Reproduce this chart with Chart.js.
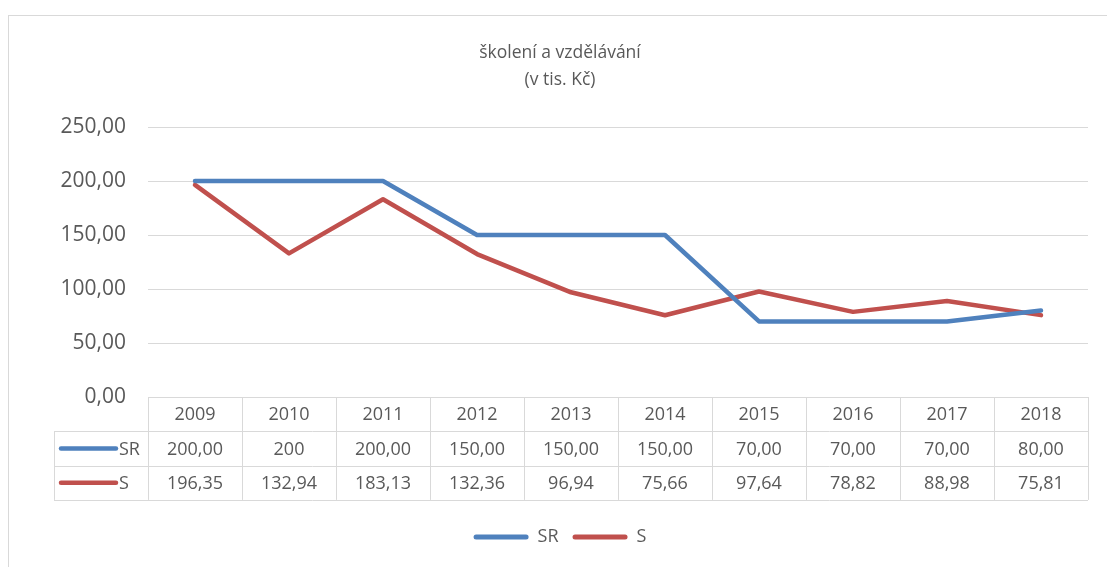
<!DOCTYPE html>
<html>
<head>
<meta charset="utf-8">
<script src="https://cdn.jsdelivr.net/npm/chart.js@4"></script>
<style>
    html, body { margin: 0; padding: 0; background: #fff; overflow: hidden; }
    #frame {
        position: absolute; left: 8px; top: 15px;
        width: 1120px; height: 580px;
        border: 1px solid #d9d9d9; box-sizing: border-box;
    }
    #wrap { position: absolute; left: 0; top: 0; width: 1107px; height: 567px; }
</style>
</head>
<body>
<div id="frame"></div>
<div id="wrap"><canvas id="myChart"></canvas></div>
<script>
const years = ['2009', '2010', '2011', '2012', '2013', '2014', '2015', '2016', '2017', '2018'];
const srValues = [200, 200, 200, 150, 150, 150, 70, 70, 70, 80];
const sValues = [196.35, 132.94, 183.13, 132.36, 96.94, 75.66, 97.64, 78.82, 88.98, 75.81];
// text exactly as shown in the data table
const srTable = ['200,00', '200', '200,00', '150,00', '150,00', '150,00', '70,00', '70,00', '70,00', '80,00'];
const sTable = ['196,35', '132,94', '183,13', '132,36', '96,94', '75,66', '97,64', '78,82', '88,98', '75,81'];
const titleLines = ['školení a vzdělávání', '(v tis. Kč)'];

const FONT = '"Open Sans", sans-serif';
const TEXT = '#595959';
const GRID = '#d9d9d9';
const BLUE = '#4f81bd';
const RED = '#c0504d';

// draws the data table under the plot, using the x scale for the columns
const dataTable = {
    id: 'dataTable',
    afterDraw(chart) {
        const ctx = chart.ctx;
        const x = chart.scales.x;
        const n = years.length;
        const band = (x.right - x.left) / n;
        const top = chart.chartArea.bottom;
        const rowH = 34.3;
        const keyLeft = x.left - band;
        const rows = [
            { name: 'SR', color: BLUE, cells: srTable },
            { name: 'S', color: RED, cells: sTable }
        ];

        ctx.save();
        ctx.strokeStyle = GRID;
        ctx.lineWidth = 1;
        const hline = (y, x0) => {
            ctx.beginPath();
            ctx.moveTo(x0, Math.round(y) + 0.5);
            ctx.lineTo(x.right, Math.round(y) + 0.5);
            ctx.stroke();
        };
        const vline = (xx, y0, y1) => {
            ctx.beginPath();
            ctx.moveTo(Math.round(xx) + 0.5, y0);
            ctx.lineTo(Math.round(xx) + 0.5, y1);
            ctx.stroke();
        };
        hline(top, x.left);
        hline(top + rowH, keyLeft);
        hline(top + 2 * rowH, keyLeft);
        hline(top + 3 * rowH, keyLeft);
        for (let k = 0; k <= n; k++) {
            vline(x.left + k * band, top, top + 3 * rowH);
        }
        vline(keyLeft, top + rowH, top + 3 * rowH);

        ctx.fillStyle = TEXT;
        ctx.font = '18px ' + FONT;
        ctx.textAlign = 'center';
        ctx.textBaseline = 'middle';
        years.forEach((yr, i) => {
            ctx.fillText(yr, x.getPixelForValue(i), top + rowH / 2 + 1);
        });
        rows.forEach((row, r) => {
            const cy = top + rowH * (r + 1.5) + 1;
            row.cells.forEach((txt, i) => {
                ctx.fillText(txt, x.getPixelForValue(i), cy);
            });
            // series key
            ctx.strokeStyle = row.color;
            ctx.lineWidth = 4.5;
            ctx.lineCap = 'round';
            ctx.beginPath();
            ctx.moveTo(keyLeft + 7, cy - 1);
            ctx.lineTo(keyLeft + 62, cy - 1);
            ctx.stroke();
            ctx.textAlign = 'left';
            ctx.fillText(row.name, keyLeft + 65, cy);
            ctx.textAlign = 'center';
        });
        ctx.restore();
    }
};

const ctx = document.getElementById('myChart').getContext('2d');
const myChart = new Chart(ctx, {
    type: 'line',
    data: {
        labels: years,
        datasets: [{
            label: 'SR',
            data: srValues,
            borderColor: BLUE,
            backgroundColor: BLUE,
            borderWidth: 4.5,
            pointRadius: 0,
            tension: 0,
            borderJoinStyle: 'round',
            borderCapStyle: 'round'
        }, {
            label: 'S',
            data: sValues,
            borderColor: RED,
            backgroundColor: RED,
            borderWidth: 4.5,
            pointRadius: 0,
            tension: 0,
            borderJoinStyle: 'round',
            borderCapStyle: 'round'
        }]
    },
    options: {
        responsive: true,
        maintainAspectRatio: false,
        animation: false,
        layout: { padding: { top: 0, left: 32, right: 19, bottom: 11 } },
        plugins: {
            title: {
                display: true,
                text: titleLines,
                color: TEXT,
                font: { family: FONT, size: 17.5, weight: 'normal', lineHeight: 27 / 17.5 },
                padding: { top: 40, bottom: 33 }
            },
            legend: {
                position: 'bottom',
                labels: {
                    color: TEXT,
                    font: { family: FONT, size: 18 },
                    boxWidth: 55,
                    boxHeight: 5,
                    padding: 14,
                    useBorderRadius: true,
                    borderRadius: 2.5,
                    generateLabels(chart) {
                        const items = Chart.defaults.plugins.legend.labels.generateLabels(chart);
                        items.forEach(it => { it.lineWidth = 0; });
                        return items;
                    }
                }
            },
            tooltip: { enabled: false }
        },
        scales: {
            x: {
                offset: true,
                grid: { display: false },
                border: { display: false },
                ticks: { display: false },
                afterFit(scale) { scale.height = 117; }
            },
            y: {
                min: 0,
                max: 250,
                ticks: {
                    stepSize: 50,
                    color: TEXT,
                    padding: 22,
                    font: { family: FONT, size: 21 },
                    callback: v => v.toFixed(2).replace('.', ',')
                },
                grid: { color: GRID, drawTicks: false },
                border: { display: false },
                afterFit(scale) { scale.width = 116; }
            }
        }
    },
    plugins: [dataTable]
});
</script>
</body>
</html>
